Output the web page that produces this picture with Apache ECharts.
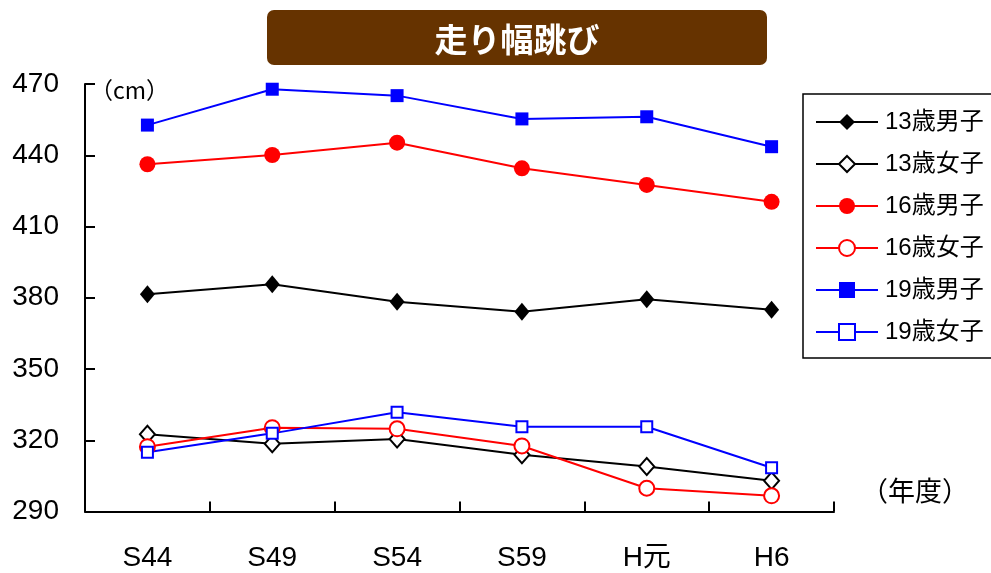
<!DOCTYPE html>
<html>
<head>
<meta charset="utf-8">
<script src="https://cdn.jsdelivr.net/npm/echarts@6/dist/echarts.min.js"></script>
<style>
html,body{margin:0;padding:0;background:#fff;}
#chart{width:991px;height:573px;}
</style>
</head>
<body>
<div id="chart"></div>
<script>
const categories = ['S44', 'S49', 'S54', 'S59', 'H元', 'H6'];
const seriesNames = ['13歳男子', '13歳女子', '16歳男子', '16歳女子', '19歳男子', '19歳女子'];
const boys13 = [381.5, 385.7, 378.3, 374.1, 379.4, 374.9];
const girls13 = [322.5, 318.5, 320.5, 313.9, 308.9, 302.9];
const boys16 = [436.2, 440.1, 445.3, 434.5, 427.5, 420.4];
const girls16 = [317.3, 325.3, 324.8, 317.6, 299.8, 296.6];
const boys19 = [452.7, 467.8, 465.1, 455.3, 456.2, 443.6];
const girls19 = [314.9, 322.9, 331.8, 325.7, 325.7, 308.4];
const yMin = 290, yMax = 470, yStep = 30;
const titleText = '走り幅跳び';
const unitText = '（cm）';
const xUnitText = '（年度）';

const FONT = "'Liberation Sans', 'Noto Sans CJK JP', sans-serif";
const JP = "'Noto Sans CJK JP', sans-serif";

function mk(name, data, color, symbol, size) {
  const empty = symbol.indexOf('empty') === 0;
  return {
    name: name,
    type: 'line',
    data: data,
    symbol: symbol,
    symbolSize: size,
    showAllSymbol: true,
    lineStyle: { color: color, width: 2 },
    itemStyle: empty ? { color: color, borderColor: color, borderWidth: 2 } : { color: color },
    emphasis: { disabled: true },
    z: 3
  };
}

const chart = echarts.init(document.getElementById('chart'), null, { renderer: 'canvas' });
chart.setOption({
  backgroundColor: '#fff',
  animation: false,
  textStyle: { fontFamily: FONT },
  grid: { left: 85, right: 157, top: 84, bottom: 61.5, containLabel: false },
  legend: {
    orient: 'vertical',
    left: 803,
    top: 94,
    padding: [16, 20, 14, 12],
    itemWidth: 62,
    itemHeight: 20,
    itemGap: 18,
    borderColor: '#000',
    borderWidth: 1.5,
    data: seriesNames,
    textStyle: { fontSize: 24, fontFamily: FONT, color: '#000', padding: [0, 0, 0, 2] },
    inactiveColor: '#000'
  },
  xAxis: {
    type: 'category',
    data: categories,
    boundaryGap: true,
    axisLine: { show: true, lineStyle: { color: '#000', width: 2 } },
    axisTick: { show: true, inside: true, length: 10, alignWithLabel: false, lineStyle: { color: '#000', width: 2 } },
    axisLabel: { fontSize: 28, color: '#000', margin: 33, fontFamily: FONT },
    splitLine: { show: false }
  },
  yAxis: {
    type: 'value',
    min: yMin,
    max: yMax,
    interval: yStep,
    axisLine: { show: true, lineStyle: { color: '#000', width: 2 } },
    axisTick: { show: true, inside: true, length: 10, lineStyle: { color: '#000', width: 2 } },
    axisLabel: { fontSize: 28, color: '#000', margin: 26, fontFamily: FONT, padding: [6, 0, 0, 0] },
    splitLine: { show: false }
  },
  graphic: [
    {
      type: 'rect',
      shape: { x: 267, y: 10, width: 500, height: 55, r: 7 },
      style: { fill: '#663300' }
    },
    {
      type: 'text',
      x: 517, y: 39,
      style: { text: titleText, fill: '#fff', font: "bold 33px " + JP, align: 'center', verticalAlign: 'middle' }
    },
    {
      type: 'text',
      x: 90, y: 90,
      style: { text: unitText, fill: '#000', font: "23px " + JP, align: 'left', verticalAlign: 'middle' }
    },
    {
      type: 'text',
      x: 915, y: 491,
      style: { text: xUnitText, fill: '#000', font: "27px " + JP, align: 'center', verticalAlign: 'middle' }
    }
  ],
  series: [
    mk(seriesNames[0], boys13, '#000000', 'diamond', [15, 18]),
    mk(seriesNames[1], girls13, '#000000', 'emptyDiamond', [15, 17]),
    mk(seriesNames[2], boys16, '#ff0000', 'circle', 16),
    mk(seriesNames[3], girls16, '#ff0000', 'emptyCircle', 15),
    mk(seriesNames[4], boys19, '#0000ff', 'rect', 13),
    mk(seriesNames[5], girls19, '#0000ff', 'emptyRect', 11)
  ]
});
</script>
</body>
</html>
